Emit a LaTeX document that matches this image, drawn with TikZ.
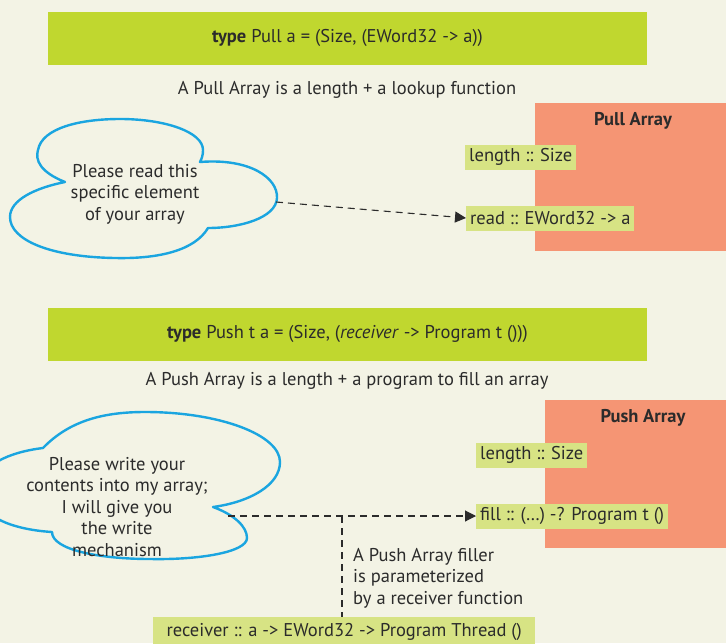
\documentclass[tikz,border=0pt]{standalone}
\usepackage{fontspec}
\setmainfont{PT Sans}
\usetikzlibrary{arrows.meta}
\definecolor{bg}{HTML}{F3F3E5}
\definecolor{lime}{HTML}{C0D72F}
\definecolor{pale}{HTML}{D7E384}
\definecolor{salmon}{HTML}{F59574}
\definecolor{sky}{HTML}{1AA5E0}
\definecolor{ink}{HTML}{2B2B2B}

\begin{document}
\begin{tikzpicture}[x=1pt,y=-1pt,
  every node/.style={font=\fontsize{18.5}{21.5}\selectfont, text=ink},
  banner/.style={fill=lime, minimum width=599pt, minimum height=53pt, inner sep=0pt},
  caption/.style={inner sep=0pt},
  panel/.style={fill=salmon, anchor=north west, inner sep=0pt},
  paneltitle/.style={font=\fontsize{18.5}{21.5}\selectfont\bfseries},
  field/.style={fill=pale, anchor=west, inner xsep=4pt, inner ysep=0pt, minimum height=25pt},
  thought/.style={draw=sky, line width=2.4pt, line join=round},
  lead/.style={draw=ink, line width=1.1pt, dash pattern=on 7pt off 5pt},
  tip/.style={-{Triangle[length=11pt,width=11pt]}},
  note/.style={align=left, anchor=north west, inner sep=0pt}
]
\clip (0,0) rectangle (726,643);
\fill[bg] (0,0) rectangle (726,643);

% ---------- Pull array ----------
\node[banner] (pullbanner) at (347.5,38) {\textbf{type} Pull a = (Size, (EWord32 -> a))};
\node[caption] (pullcaption) at (347,90) {A Pull Array is a length + a lookup function};

\node[panel, minimum width=191pt, minimum height=148pt] (pullpanel) at (535,103) {};
\node[paneltitle] (pulltitle) at (633,121) {Pull Array};
\node[field] (pulllength) at (465,157) {length :: Size};
\node[field] (pullread) at (466,218) {read :: EWord32 -> a};

% thought bubble: top, right and lower lobes
\draw[thought]
  (65,182) .. controls (40,172) and (35,160) .. (38,150)
  .. controls (42,128) and (80,119) .. (120,119)
  .. controls (165,119) and (203,132) .. (203,150)
  .. controls (203,155) and (202,158) .. (200,162)
  .. controls (250,158) and (278,178) .. (277,198)
  .. controls (276,218) and (240,228) .. (208,228)
  .. controls (195,250) and (160,259) .. (115,258)
  .. controls (50,257) and (10,240) .. (10,217)
  .. controls (10,200) and (35,188) .. (65,182) -- cycle;
\node[align=center] (pullask) at (135,194) {Please read this\\specific element\\of your array};
\coordinate (pullaskout) at (276,202);

\draw[lead, tip] (pullaskout) -- (pullread.west);

% ---------- Push array ----------
\node[banner] (pushbanner) at (347.5,334) {\textbf{type} Push t a = (Size, (\textit{receiver} -> Program t ()))};
\node[caption] (pushcaption) at (347,381) {A Push Array is a length + a program to fill an array};

\node[panel, minimum width=181pt, minimum height=148pt] (pushpanel) at (545,400) {};
\node[paneltitle] (pushtitle) at (643,418) {Push Array};
\node[field] (pushlength) at (476,455) {length :: Size};
\node[field] (pushfill) at (476,516) {fill :: (…) -? Program t ()};

% thought bubble: top, lower and left lobes
\draw[thought]
  (43,448) .. controls (70,420) and (105,412) .. (145,412)
  .. controls (220,412) and (280,435) .. (280,462)
  .. controls (280,485) and (250,502) .. (213,507)
  .. controls (235,515) and (247,527) .. (247,538)
  .. controls (247,552) and (200,560) .. (150,559)
  .. controls (100,559) and (52,550) .. (52,532)
  .. controls (20,530) and (-22,520) .. (-22,490)
  .. controls (-22,465) and (10,452) .. (43,448) -- cycle;
\node[align=center] (pushask) at (117,507) {Please write your\\contents into my array;\\I will give you\\the write\\mechanism};
\coordinate (pushaskout) at (228,516);
\coordinate (branch) at (342,516);

\draw[lead, tip] (pushaskout) -- (pushfill.west);

\node[field, anchor=north west, minimum height=30pt, minimum width=382pt] (receiver) at (153,617) {receiver :: a -> EWord32 -> Program Thread ()};
\draw[lead] (branch) -- (branch |- receiver.north);

\node[note] (fillernote) at (353,548) {A Push Array filler\\is parameterized\\by a receiver function};
\end{tikzpicture}
\end{document}
